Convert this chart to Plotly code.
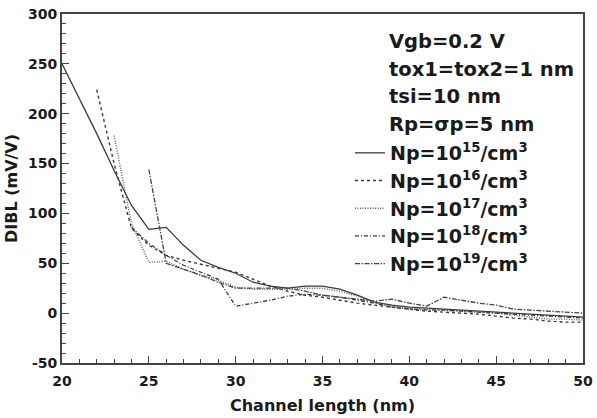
import plotly.graph_objects as go

# Channel length (nm) and DIBL (mV/V) per doping level
x15 = [20, 21, 22, 23, 24, 25, 26, 27, 28, 29, 30, 31, 32, 33, 34, 35, 36, 37, 38, 39, 40, 41, 42, 43, 44, 45, 46, 47, 48, 49, 50]
y15 = [250, 215, 180, 143, 108, 84, 86, 68, 53, 46, 40, 31, 27, 25, 27, 27, 24, 18, 11, 8, 6, 5, 4, 3, 2, 1, 0, -1, -2, -3, -4]

x16 = [22, 23, 24, 25, 26, 27, 28, 29, 30, 31, 32, 33, 34, 35, 36, 37, 38, 39, 40, 41, 42, 43, 44, 45, 46, 47, 48, 49, 50]
y16 = [224, 150, 85, 68, 58, 53, 49, 45, 41, 34, 27, 22, 18, 16, 13, 10, 8, 6, 4, 2, 1, 0, -1, -3, -5, -6, -8, -9, -9]

x17 = [23, 24, 25, 26, 27, 28, 29, 30, 31, 32, 33, 34, 35, 36, 37, 38, 39, 40, 41, 42, 43, 44, 45, 46, 47, 48, 49, 50]
y17 = [178, 90, 51, 52, 44, 38, 33, 26, 24, 24, 24, 25, 25, 22, 17, 11, 7, 5, 4, 3, 2, 1, 0, -2, -4, -6, -6, -7]

x18 = [24, 25, 26, 27, 28, 29, 30, 31, 32, 33, 34, 35, 36, 37, 38, 39, 40, 41, 42, 43, 44, 45, 46, 47, 48, 49, 50]
y18 = [86, 70, 58, 48, 41, 34, 7, 10, 13, 17, 19, 18, 16, 13, 10, 6, 4, 3, 3, 2, 1, 0, -1, -2, -3, -4, -5]

x19 = [25, 26, 27, 28, 29, 30, 31, 32, 33, 34, 35, 36, 37, 38, 39, 40, 41, 42, 43, 44, 45, 46, 47, 48, 49, 50]
y19 = [144, 50, 44, 38, 31, 25, 25, 25, 25, 22, 18, 16, 14, 12, 14, 10, 7, 16, 13, 10, 8, 4, 3, 2, 1, 0]

names = ["Np=10<sup>15</sup>/cm<sup>3</sup>", "Np=10<sup>16</sup>/cm<sup>3</sup>",
         "Np=10<sup>17</sup>/cm<sup>3</sup>", "Np=10<sup>18</sup>/cm<sup>3</sup>",
         "Np=10<sup>19</sup>/cm<sup>3</sup>"]
params = ["Vgb=0.2 V", "tox1=tox2=1 nm", "tsi=10 nm", "Rp=σp=5 nm"]

x_ticks = [20, 25, 30, 35, 40, 45, 50]
y_ticks = [-50, 0, 50, 100, 150, 200, 250, 300]
y_tick_labels = ["-50", "0", "50", "100", "150", "200", "250", "300"]

styles = [
    dict(color="#3a3a3a", width=1.3, dash="solid"),
    dict(color="#3a3a3a", width=1.4, dash="3px,3px"),
    dict(color="#5a5a5a", width=1.4, dash="1px,1.5px"),
    dict(color="#3a3a3a", width=1.3, dash="4px,2px,1px,2px"),
    dict(color="#444444", width=1.3, dash="5px,1.5px,1.5px,1.5px"),
]

fig = go.Figure()
for i, (xs, ys) in enumerate([(x15, y15), (x16, y16), (x17, y17), (x18, y18), (x19, y19)]):
    fig.add_trace(go.Scatter(x=xs, y=ys, mode="lines", name=names[i], line=styles[i],
                             legendgroup=str(i)))

font_b = dict(family="DejaVu Sans", weight="bold", color="#1a1a1a")

ann_y = [42, 69, 97, 124]
for t, yp in zip(params, ann_y):
    fig.add_annotation(text=t, xref="paper", yref="paper",
                       x=(387 - 62) / 521, y=(363 - yp) / 349,
                       xanchor="left", yanchor="middle", showarrow=False,
                       font=dict(size=19.5, **font_b))

axis_common = dict(showline=True, linecolor="#444", linewidth=2, mirror=True,
                   ticks="inside", ticklen=7, tickwidth=1.3, tickcolor="#444",
                   showgrid=False, zeroline=False, automargin=False,
                   tickfont=dict(size=14, **font_b))

fig.update_xaxes(range=[20, 50], tickvals=x_ticks,
                 minor=dict(dtick=1, ticks="inside", ticklen=4, tickcolor="#444"),
                 ticklabelstandoff=4,
                 title=dict(text="Channel length (nm)", font=dict(size=16, **font_b), standoff=12),
                 **axis_common)
fig.update_yaxes(range=[-50, 300], tickvals=y_ticks, ticktext=y_tick_labels,
                 minor=dict(dtick=10, ticks="inside", ticklen=4, tickcolor="#444"),
                 title=dict(text="DIBL (mV/V)", font=dict(size=16, **font_b), standoff=6),
                 **axis_common)

fig.update_layout(
    width=597, height=418,
    margin=dict(l=62, r=14, t=14, b=55),
    paper_bgcolor="white", plot_bgcolor="white",
    legend=dict(x=(350 - 62) / 521, y=(363 - 134) / 349, xanchor="left", yanchor="top",
                bgcolor="rgba(0,0,0,0)", font=dict(size=19, **font_b),
                tracegroupgap=0, itemwidth=30),
)

fig.write_html("out.html")
